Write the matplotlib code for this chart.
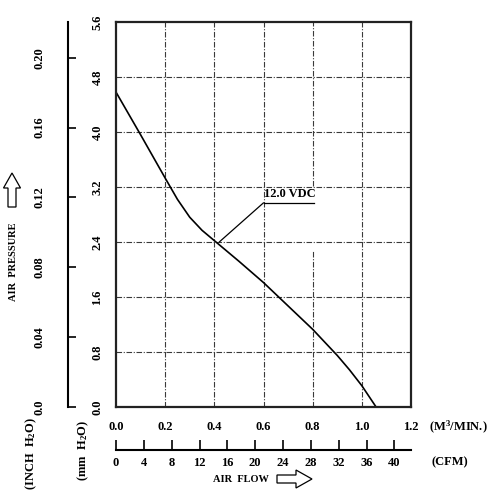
import matplotlib
matplotlib.use('Agg')
import matplotlib.pyplot as plt
from matplotlib.patches import Polygon

# ---------------- data ----------------
flow_m3min = [0.0, 0.1, 0.2, 0.25, 0.3, 0.35, 0.4, 0.45, 0.5, 0.6, 0.7, 0.8,
              0.9, 0.95, 1.0, 1.058]
pressure_mmh2o = [4.58, 3.96, 3.33, 3.02, 2.76, 2.57, 2.42, 2.27, 2.12, 1.81,
                  1.47, 1.13, 0.75, 0.54, 0.31, 0.0]

x_ticks_m3 = [0.0, 0.2, 0.4, 0.6, 0.8, 1.0, 1.2]
y_ticks_mm = [0.0, 0.8, 1.6, 2.4, 3.2, 4.0, 4.8, 5.6]
y_ticks_inch = [0.0, 0.04, 0.08, 0.12, 0.16, 0.20]
x_ticks_cfm = [0, 4, 8, 12, 16, 20, 24, 28, 32, 36, 40]
grid_x = [0.2, 0.4, 0.6, 1.0]
grid_y = [0.8, 1.6, 2.4, 3.2, 4.0, 4.8]
curve_label = "12.0 VDC"
label_point = (0.42, 2.40)
label_text_pos = (0.6, 2.97)
label_underline_end = 0.805

MM_PER_INCH = 25.4
CFM_PER_M3MIN = 35.3147

# ---------------- style ----------------
plt.rcParams['font.family'] = ['Liberation Serif', 'DejaVu Serif']
plt.rcParams['font.weight'] = 'bold'
plt.rcParams['mathtext.fontset'] = 'custom'
plt.rcParams['mathtext.rm'] = 'Liberation Serif:bold'
plt.rcParams['mathtext.default'] = 'rm'
FS = 9

W, H = 492, 496
fig = plt.figure(figsize=(W / 100, H / 100), dpi=100)


def fx(px):
    return px / W


def fy(py):
    return 1 - py / H


grid_style = dict(color='#3a3a3a', lw=0.8, linestyle=(0, (5, 1.5, 1, 1.5)))

# ---------------- main axes ----------------
ax = fig.add_axes([fx(116), fy(407), 295 / W, 385 / H])
ax.set_xlim(0, 1.2)
ax.set_ylim(0, 5.6)
ax.set_xticks(x_ticks_m3)
ax.set_xticklabels([f"{v:.1f}" for v in x_ticks_m3], fontsize=FS, fontweight='bold')
ax.set_yticks(y_ticks_mm)
ax.set_yticklabels([f"{v:.1f}" for v in y_ticks_mm], fontsize=FS, fontweight='bold')
ax.tick_params(axis='x', length=0, pad=10)
ax.tick_params(axis='y', length=0, pad=9, labelrotation=90)
for lab in ax.get_yticklabels():
    lab.set_va('center')
for s in ax.spines.values():
    s.set_linewidth(1.6)
    s.set_color('#222222')

for gx in grid_x:
    ax.axvline(gx, **grid_style)
# the 0.8 line is interrupted around the curve label
ax.vlines(0.8, 0, 2.29, **grid_style)
ax.vlines(0.8, 3.22, 5.6, **grid_style)
for gy in grid_y:
    ax.axhline(gy, **grid_style)

ax.plot(flow_m3min, pressure_mmh2o, color='black', lw=1.2, solid_capstyle='round',
        solid_joinstyle='round')

ax.annotate('', xy=label_point, xytext=label_text_pos,
            arrowprops=dict(arrowstyle='-', lw=0.9, color='black',
                            shrinkA=0, shrinkB=0))
ax.plot([label_text_pos[0], label_underline_end], [label_text_pos[1]] * 2,
        color='black', lw=0.9)
ax.text(label_text_pos[0] + 0.003, label_text_pos[1] + 0.04, curve_label,
        fontsize=FS, fontweight='bold', ha='left', va='bottom')

# ---------------- inch axis ----------------
axi = fig.add_axes([fx(68), fy(407), 0.0005, 385 / H])
axi.patch.set_visible(False)
axi.set_ylim(0, 5.6 / MM_PER_INCH)
axi.set_yticks(y_ticks_inch)
axi.set_yticklabels([f"{v:.2f}" if v > 0 else "0.0" for v in y_ticks_inch],
                    fontsize=FS, fontweight='bold')
axi.set_xticks([])
for k in ['top', 'right', 'bottom']:
    axi.spines[k].set_visible(False)
axi.spines['left'].set_linewidth(1.5)
axi.tick_params(axis='y', direction='in', length=6, width=1.2, pad=16,
                labelrotation=90)
for lab in axi.get_yticklabels():
    lab.set_va('center')

# ---------------- CFM axis ----------------
axc = fig.add_axes([fx(116), fy(450), 295 / W, 0.0005])
axc.patch.set_visible(False)
axc.set_xlim(0, 1.2 * CFM_PER_M3MIN)
axc.set_xticks(x_ticks_cfm)
axc.set_xticklabels([str(v) for v in x_ticks_cfm], fontsize=FS, fontweight='bold')
axc.set_yticks([])
for k in ['top', 'right', 'left']:
    axc.spines[k].set_visible(False)
axc.spines['bottom'].set_linewidth(1.5)
axc.tick_params(axis='x', direction='in', length=7, width=1.2, pad=5)

# ---------------- labels ----------------
fig.text(fx(429), fy(427), '(M$^3$/MIN.)', fontsize=FS, ha='left', va='center')
fig.text(fx(432), fy(462), '(CFM)', fontsize=FS, ha='left', va='center')
fig.text(fx(241), fy(479), 'AIR  FLOW', fontsize=7.5, ha='center', va='center')
fig.text(fx(14), fy(262), 'AIR  PRESSURE', fontsize=7.5, ha='center', va='center',
         rotation=90)
fig.text(fx(31), fy(454), '(INCH  H$_2$O)', fontsize=FS, ha='center', va='center',
         rotation=90)
fig.text(fx(83), fy(450), '(mm  H$_2$O)', fontsize=FS, ha='center', va='center',
         rotation=90)

# hollow arrows
def hollow_arrow(pts):
    fig.patches.append(Polygon([(fx(a), fy(b)) for a, b in pts], closed=True,
                               transform=fig.transFigure, facecolor='white',
                               edgecolor='black', lw=0.9))

hollow_arrow([(8, 207), (8, 188), (3.5, 188), (12, 173), (20.5, 188),
              (16, 188), (16, 207)])
hollow_arrow([(277, 475), (296, 475), (296, 470), (312, 479), (296, 488),
              (296, 483), (277, 483)])

fig.savefig('out.png', dpi=100)
